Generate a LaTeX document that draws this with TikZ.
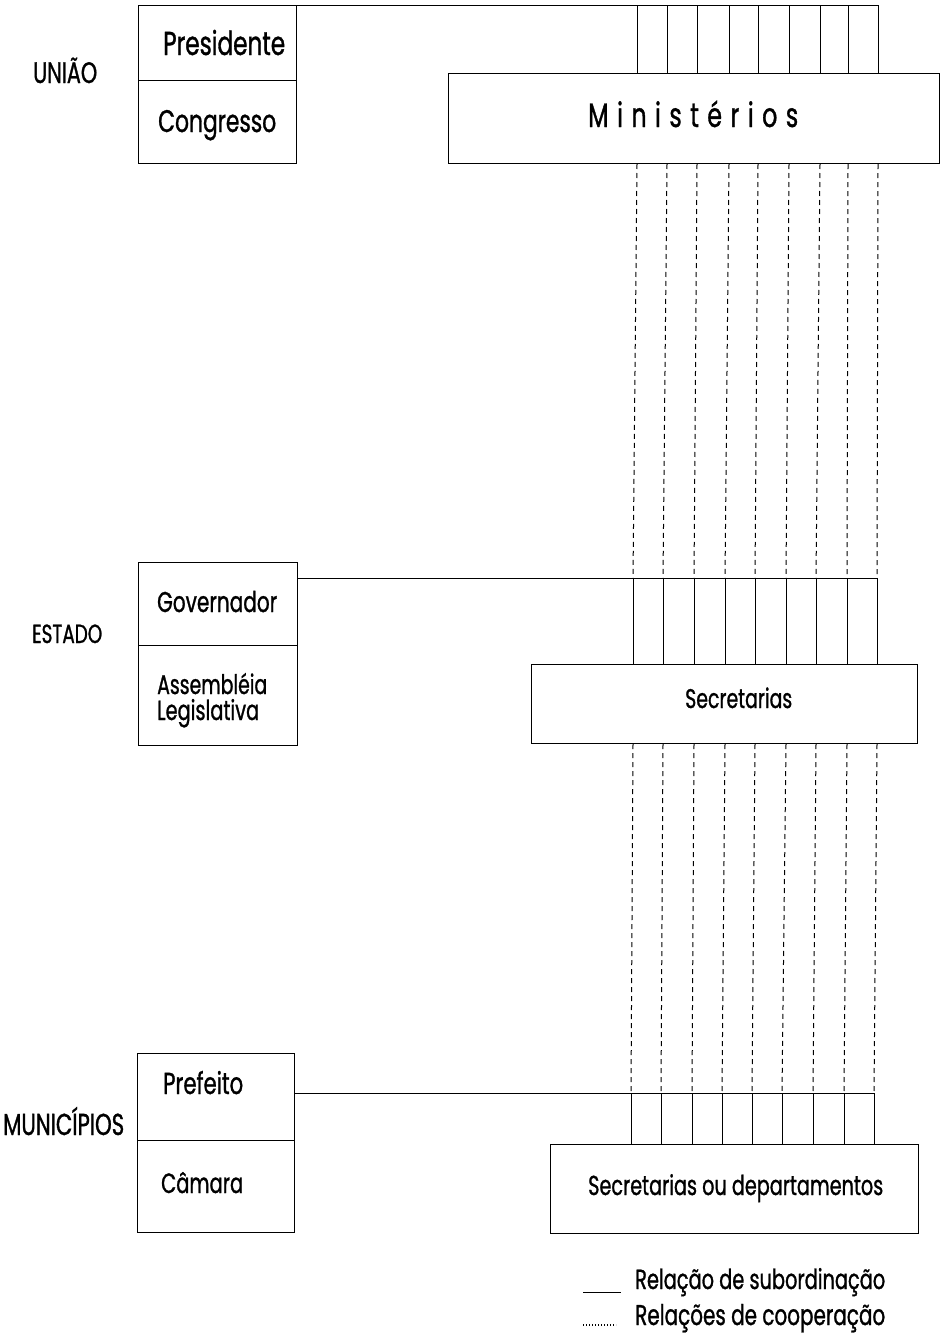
\documentclass[tikz,border=0pt]{standalone}
\usepackage{fontspec}
\setmainfont{Poppins}[FakeStretch=0.7, FakeBold=1.0]
\usepackage{graphicx}
% set a text to a given width (in pt), keeping its proportions
\newcommand\fw[2]{\resizebox{#1pt}{!}{#2}}
\begin{document}
\begin{tikzpicture}[x=1pt,y=-1pt,
  box/.style={draw, line width=1pt, inner sep=0pt, anchor=north west},
  sub/.style={line width=1pt},
  coop/.style={line width=1pt, dash pattern=on 5pt off 4pt},
  dotline/.style={line width=1.1pt, dash pattern=on 1pt off 2pt},
  lbl/.style={inner sep=0pt, anchor=base west}]
\useasboundingbox (0,0) rectangle (943,1341);

% ---- boxes ----
\node[box, minimum width=158pt, minimum height=75pt] (pres) at (138,5) {};
\node[box, minimum width=158pt, minimum height=83pt] (cong) at (138,80) {};
\node[box, minimum width=491pt, minimum height=90pt] (min) at (448,73) {};

\node[box, minimum width=159pt, minimum height=83pt] (gov) at (138,562) {};
\node[box, minimum width=159pt, minimum height=100pt] (ass) at (138,645) {};
\node[box, minimum width=386pt, minimum height=79pt] (sec) at (531,664) {};

\node[box, minimum width=157pt, minimum height=87pt] (pref) at (137,1053) {};
\node[box, minimum width=157pt, minimum height=92pt] (cam) at (137,1140) {};
\node[box, minimum width=368pt, minimum height=89pt] (dep) at (550,1144) {};

% ---- texts ----
\node[lbl] (tuniao) at (33,83) {\fw{64}{UNIÃO}};
\node[lbl] (tpres) at (163,55) {\fw{122}{Presidente}};
\node[lbl] (tcong) at (158,132) {\fw{118}{Congresso}};
\node[lbl] (tmin) at (588,127) {\fw{210}{\addfontfeatures{LetterSpace=25}Ministérios}};

\node[lbl] (testado) at (32,643) {\fw{70}{ESTADO}};
\node[lbl] (tgov) at (157,612) {\fw{120}{Governador}};
\node[lbl] (tass) at (157,694) {\fw{110}{Assembléia}};
\node[lbl] (tleg) at (157,720) {\fw{102}{Legislativa}};
\node[lbl] (tsec) at (685,708) {\fw{107}{Secretarias}};

\node[lbl] (tmun) at (3,1135) {\fw{121}{MUNICÍPIOS}};
\node[lbl] (tpref) at (163,1094) {\fw{80}{Prefeito}};
\node[lbl] (tcam) at (161,1193) {\fw{82}{Câmara}};
\node[lbl] (tdep) at (588,1195) {\fw{295}{Secretarias ou departamentos}};

% ---- points where the nine relation lines meet each level ----
\foreach \a/\b/\c [count=\i] in {637/633/631, 667/663/661, 697/694/692,
    729/725/722, 758/755/752, 789/786/782, 820/816/813, 848/847/844, 878/877/874} {
  \coordinate (t\i) at (\a,5);
  \coordinate (g\i) at (\b,578);
  \coordinate (p\i) at (\c,1093);
}

% ---- subordination lines ----
\draw[sub] (pres.north east) -- (t9);
\draw[sub] (gov.east |- g1) -- (g9);
\draw[sub] (pref.east |- p1) -- (p9);
\foreach \i in {1,...,9} {
  \draw[sub] (t\i) -- (t\i |- min.north);
  \draw[sub] (g\i) -- (g\i |- sec.north);
  \draw[sub] (p\i) -- (p\i |- dep.north);
}

% ---- cooperation lines ----
\foreach \i in {1,...,9} {
  \draw[coop] (t\i |- min.south) -- (g\i);
  \draw[coop] (g\i |- sec.south) -- (p\i);
}

% ---- legend ----
\coordinate (la) at (583,1292);
\coordinate (lb) at (621,1292);
\coordinate (lc) at (583,1325);
\coordinate (ld) at (616,1325);
\draw[sub] (la) -- (lb);
\draw[dotline] (lc) -- (ld);
\node[lbl] (tl1) at (635,1289) {\fw{250}{Relação de subordinação}};
\node[lbl] (tl2) at (635,1325) {\fw{250}{Relações de cooperação}};
\end{tikzpicture}
\end{document}
